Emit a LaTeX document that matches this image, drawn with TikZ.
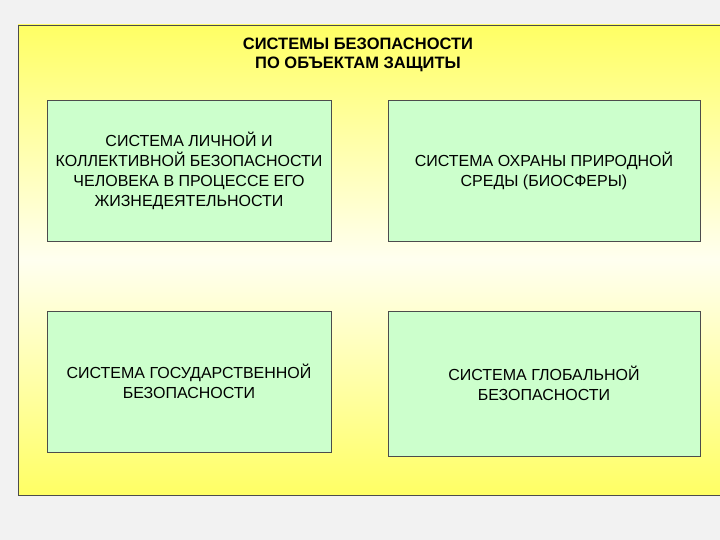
\documentclass[tikz,border=0pt]{standalone}
\usepackage{fontspec}
\setmainfont{Liberation Sans}
\begin{document}
\begin{tikzpicture}[x=1pt,y=-1pt,
  gbox/.style={draw=black!70,fill={rgb,255:red,204;green,255;blue,204},align=center,font=\fontsize{16}{20}\selectfont,inner sep=0pt}]
\clip (0,0) rectangle (720,540);
\fill[white!95!black] (0,0) rectangle (720,540);
\shade[top color={rgb,255:red,255;green,255;blue,100},bottom color={rgb,255:red,255;green,255;blue,100},middle color={rgb,255:red,255;green,255;blue,240},draw=black!70] (18,25) rectangle (727,495);
\node[font=\bfseries\fontsize{16.5}{19.5}\selectfont,align=center] (title) at (358,55) {СИСТЕМЫ БЕЗОПАСНОСТИ\\ПО ОБЪЕКТАМ ЗАЩИТЫ};
\node[gbox,minimum width=284,minimum height=141] (a) at (189,170.5) {СИСТЕМА ЛИЧНОЙ И\\КОЛЛЕКТИВНОЙ БЕЗОПАСНОСТИ\\ЧЕЛОВЕКА В ПРОЦЕССЕ ЕГО\\ЖИЗНЕДЕЯТЕЛЬНОСТИ};
\node[gbox,minimum width=312,minimum height=141] (b) at (544,170.5) {СИСТЕМА ОХРАНЫ ПРИРОДНОЙ\\СРЕДЫ (БИОСФЕРЫ)};
\node[gbox,minimum width=284,minimum height=141] (c) at (189,381.5) {СИСТЕМА ГОСУДАРСТВЕННОЙ\\БЕЗОПАСНОСТИ};
\node[gbox,minimum width=312,minimum height=145] (d) at (544,383.5) {СИСТЕМА ГЛОБАЛЬНОЙ\\БЕЗОПАСНОСТИ};
\end{tikzpicture}
\end{document}
